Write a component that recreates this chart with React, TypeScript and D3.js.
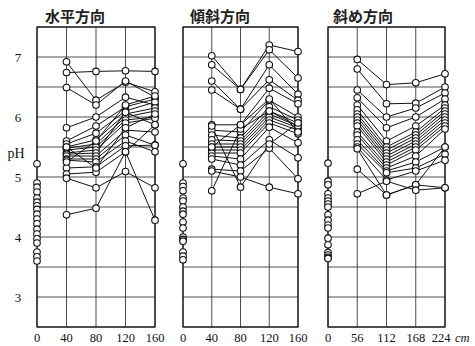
import React, { useEffect, useRef } from 'react';
import * as d3 from 'd3';

// panel titles
const titles = ['水平方向', '傾斜方向', '斜め方向'];

// x categories (cm)
const xTicks1 = [0, 40, 80, 120, 160];
const xTicks2 = [0, 40, 80, 120, 160];
const xTicks3 = [0, 56, 112, 168, 224];

const yTicks = [3, 4, 5, 6, 7];

// pH at surface (x = 0), unconnected points
const surface1 = [5.22, 4.9, 4.83, 4.75, 4.65, 4.58, 4.52, 4.46, 4.38, 4.3, 4.22, 4.13, 4.05, 3.97, 3.9, 3.75, 3.67, 3.6];
const surface2 = [5.22, 4.9, 4.84, 4.77, 4.65, 4.6, 4.5, 4.43, 4.38, 4.25, 4.15, 4.0, 3.96, 3.93, 3.75, 3.68, 3.62];
const surface3 = [5.23, 4.93, 4.87, 4.72, 4.65, 4.6, 4.55, 4.5, 4.37, 4.28, 4.2, 4.15, 3.98, 3.87, 3.74, 3.7, 3.66, 3.64];

// series at x = 40, 80, 120, 160 (水平方向)
const series1 = [
  [6.74, 6.76, 6.77, 6.76],
  [6.92, 6.28, 6.58, 6.42],
  [6.49, 6.2, 6.6, 6.33],
  [5.82, 6.0, 6.33, 6.2],
  [5.6, 5.85, 6.17, 6.3],
  [5.55, 5.73, 6.1, 6.25],
  [5.5, 5.62, 6.05, 6.15],
  [5.48, 5.55, 6.0, 6.1],
  [5.45, 5.5, 5.95, 6.0],
  [5.4, 5.45, 5.9, 5.98],
  [5.38, 5.4, 6.08, 5.87],
  [5.35, 5.35, 5.78, 5.75],
  [5.3, 5.3, 5.7, 5.53],
  [5.28, 5.25, 5.6, 5.42],
  [5.15, 5.17, 5.52, 5.53],
  [5.05, 5.08, 5.42, 5.87],
  [4.98, 4.82, 5.09, 4.82],
  [4.37, 4.48, 5.42, 4.28],
  [5.5, 5.15, 5.82, 6.05],
  [5.25, 5.6, 6.2, 6.35],
];

// series at x = 40, 80, 120, 160 (傾斜方向)
const series2 = [
  [7.02, 6.46, 7.2, 7.09],
  [6.87, 6.46, 7.12, 6.65],
  [6.6, 6.13, 6.87, 6.38],
  [6.45, 6.13, 6.62, 6.28],
  [5.87, 5.87, 6.48, 6.22],
  [5.78, 5.75, 6.28, 6.0],
  [5.7, 5.65, 6.17, 5.95],
  [5.62, 5.6, 6.1, 5.9],
  [5.55, 5.55, 6.05, 5.85],
  [5.5, 5.5, 6.0, 5.82],
  [5.45, 5.45, 5.95, 5.78],
  [5.4, 5.4, 5.9, 5.72],
  [5.35, 5.3, 5.83, 5.57],
  [5.3, 5.2, 5.62, 5.32],
  [5.13, 5.1, 5.48, 4.97],
  [5.1, 5.0, 4.83, 4.72],
  [4.77, 5.8, 6.1, 5.85],
  [5.85, 4.83, 5.55, 5.9],
  [5.5, 5.87, 6.3, 5.75],
];

// series at x = 56, 112, 168, 224 (斜め方向)
const series3 = [
  [6.96, 6.54, 6.57, 6.72],
  [6.8, 6.22, 6.23, 6.5],
  [6.45, 6.0, 6.15, 6.4],
  [6.32, 5.82, 6.0, 6.3],
  [6.2, 5.6, 5.85, 6.2],
  [6.12, 5.5, 5.75, 6.15],
  [6.05, 5.45, 5.7, 6.1],
  [6.0, 5.4, 5.65, 6.05],
  [5.95, 5.35, 5.6, 6.0],
  [5.9, 5.3, 5.55, 5.95],
  [5.85, 5.25, 5.5, 5.9],
  [5.75, 5.2, 5.45, 5.85],
  [5.7, 5.15, 5.35, 5.8],
  [5.62, 5.1, 5.25, 5.5],
  [5.55, 5.07, 5.15, 5.38],
  [5.5, 4.95, 5.1, 5.28],
  [5.47, 4.7, 4.87, 4.82],
  [5.13, 4.7, 4.87, 5.5],
  [4.72, 4.93, 4.78, 4.82],
];

const WIDTH = 475;
const HEIGHT = 346;
const SERIF = '"Liberation Serif", "DejaVu Serif", serif';

export default function App() {
  const svgRef = useRef<SVGSVGElement>(null);

  useEffect(() => {
    if (!svgRef.current) return;
    const svg = d3.select(svgRef.current);
    svg.selectAll('*').remove();
    svg.attr('width', WIDTH).attr('height', HEIGHT);
    svg.append('rect').attr('width', WIDTH).attr('height', HEIGHT).attr('fill', '#fff');

    const y = d3.scaleLinear().domain([2.5, 7.5]).range([327, 27]);
    const gridY = d3.range(2.5, 7.51, 0.5);

    const panels = [
      { title: titles[0], ticks: xTicks1, range: [37, 155], surface: surface1, series: series1, titleX: 45 },
      { title: titles[1], ticks: xTicks2, range: [183, 298], surface: surface2, series: series2, titleX: 190 },
      { title: titles[2], ticks: xTicks3, range: [328, 445], surface: surface3, series: series3, titleX: 333 },
    ];

    panels.forEach((p, pi) => {
      const ticks = p.ticks;
      const x = d3.scaleLinear().domain([0, ticks[ticks.length - 1]]).range(p.range);
      const g = svg.append('g');

      // grid
      g.selectAll('.gy')
        .data(gridY)
        .enter()
        .append('line')
        .attr('x1', p.range[0])
        .attr('x2', p.range[1])
        .attr('y1', (d) => y(d))
        .attr('y2', (d) => y(d))
        .attr('stroke', '#222')
        .attr('stroke-width', 0.8);
      g.selectAll('.gx')
        .data(ticks)
        .enter()
        .append('line')
        .attr('x1', (d) => x(d))
        .attr('x2', (d) => x(d))
        .attr('y1', y(7.5))
        .attr('y2', y(2.5))
        .attr('stroke', '#222')
        .attr('stroke-width', 0.8);
      g.append('rect')
        .attr('x', p.range[0])
        .attr('y', y(7.5))
        .attr('width', p.range[1] - p.range[0])
        .attr('height', y(2.5) - y(7.5))
        .attr('fill', 'none')
        .attr('stroke', '#111')
        .attr('stroke-width', 1.2);

      // x tick labels
      g.selectAll('.xl')
        .data(ticks)
        .enter()
        .append('text')
        .attr('x', (d) => x(d))
        .attr('dx', (_, i) => (pi === 2 && i === ticks.length - 1 ? -4 : 0))
        .attr('y', 342)
        .attr('text-anchor', 'middle')
        .attr('font-family', SERIF)
        .attr('font-size', 12.5)
        .attr('fill', '#111')
        .text((d) => `${d}`);

      // title
      g.append('text')
        .attr('x', p.titleX)
        .attr('y', 22)
        .attr('font-family', '"Noto Sans CJK JP", sans-serif')
        .attr('font-size', 15)
        .attr('font-weight', 700)
        .attr('fill', '#222')
        .text(p.title);

      // lines
      const line = d3
        .line<number>()
        .x((_, i) => x(ticks[i + 1]))
        .y((d) => y(d));
      g.selectAll('.ser')
        .data(p.series)
        .enter()
        .append('path')
        .attr('d', (d) => line(d) as string)
        .attr('fill', 'none')
        .attr('stroke', '#111')
        .attr('stroke-width', 1);

      const pts = p.series.flatMap((s) => s.map((v, i) => ({ xv: ticks[i + 1], v })));
      pts.push(...p.surface.map((v) => ({ xv: 0, v })));
      g.selectAll('.pt')
        .data(pts)
        .enter()
        .append('circle')
        .attr('cx', (d) => x(d.xv))
        .attr('cy', (d) => y(d.v))
        .attr('r', 3.3)
        .attr('fill', '#fff')
        .attr('stroke', '#111')
        .attr('stroke-width', 1.1);

      if (pi === 2) {
        g.append('text')
          .attr('x', 455)
          .attr('y', 342)
          .attr('font-family', SERIF)
          .attr('font-style', 'italic')
          .attr('font-size', 12.5)
          .attr('fill', '#111')
          .text('cm');
      }
    });

    // y axis labels (first panel only)
    svg
      .selectAll('.yl')
      .data(yTicks)
      .enter()
      .append('text')
      .attr('x', 18)
      .attr('y', (d) => y(d) + 5)
      .attr('text-anchor', 'middle')
      .attr('font-family', SERIF)
      .attr('font-size', 13)
      .attr('fill', '#111')
      .text((d) => `${d}`);

    svg
      .append('text')
      .attr('x', 16)
      .attr('y', 158)
      .attr('text-anchor', 'middle')
      .attr('font-family', SERIF)
      .attr('font-size', 14)
      .attr('fill', '#111')
      .text('pH');
  }, []);

  return <svg ref={svgRef} style={{ position: 'absolute', left: 0, top: 0 }} />;
}
